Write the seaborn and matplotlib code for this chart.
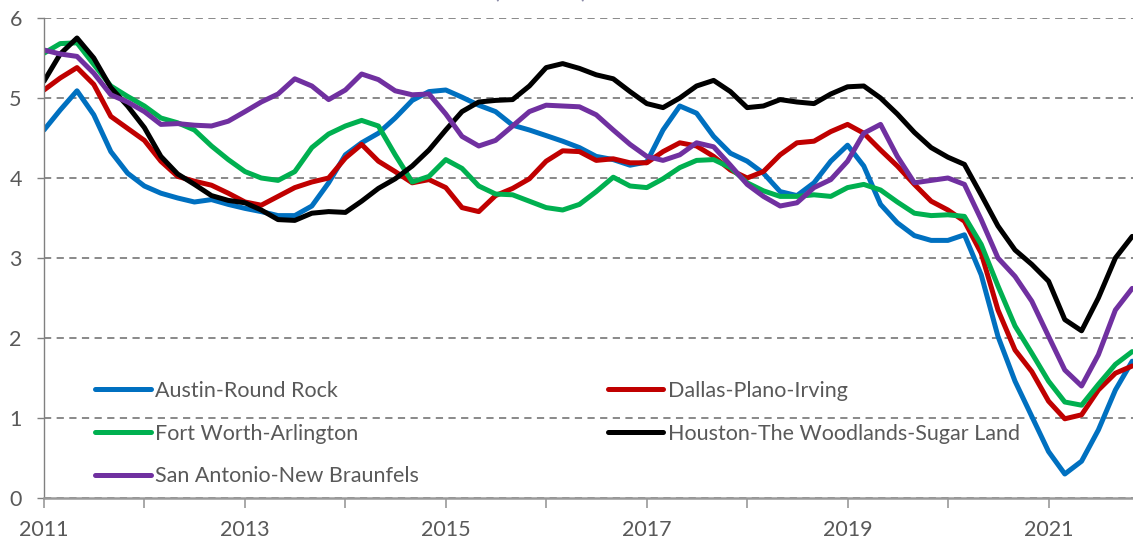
import numpy as np
import pandas as pd
import matplotlib
matplotlib.use("Agg")
import matplotlib.pyplot as plt
import matplotlib.dates as mdates
from matplotlib.ticker import FuncFormatter
import seaborn as sns

# -------------------------
# Data (every 2 months, Jan 2011 - Nov 2021)
# -------------------------
dates = pd.date_range("2011-01-01", "2021-11-01", freq="2MS")

austin = [4.60, 4.85, 5.09, 4.79, 4.33, 4.06, 3.90, 3.81, 3.75, 3.70, 3.73, 3.67,
          3.62, 3.58, 3.53, 3.53, 3.65, 3.94, 4.29, 4.44, 4.56, 4.75, 4.97, 5.08,
          5.10, 5.01, 4.91, 4.83, 4.66, 4.60, 4.53, 4.46, 4.38, 4.27, 4.23, 4.16,
          4.20, 4.60, 4.90, 4.81, 4.52, 4.31, 4.21, 4.06, 3.83, 3.78, 3.94, 4.21,
          4.41, 4.15, 3.67, 3.44, 3.28, 3.22, 3.22, 3.29, 2.79, 2.02, 1.46, 1.02,
          0.58, 0.30, 0.46, 0.85, 1.35, 1.71]
dallas = [5.10, 5.25, 5.38, 5.17, 4.77, 4.62, 4.47, 4.21, 4.02, 3.96, 3.91, 3.81,
          3.70, 3.66, 3.77, 3.88, 3.95, 4.00, 4.25, 4.42, 4.21, 4.08, 3.94, 3.98,
          3.88, 3.63, 3.58, 3.78, 3.87, 3.99, 4.21, 4.34, 4.33, 4.22, 4.24, 4.19,
          4.19, 4.33, 4.44, 4.40, 4.27, 4.10, 4.00, 4.08, 4.29, 4.44, 4.46, 4.58,
          4.67, 4.56, 4.35, 4.15, 3.92, 3.71, 3.60, 3.46, 3.06, 2.35, 1.85, 1.58,
          1.21, 0.99, 1.04, 1.35, 1.56, 1.65]
fort_worth = [5.56, 5.68, 5.69, 5.42, 5.15, 5.02, 4.90, 4.75, 4.69, 4.60, 4.40, 4.23,
              4.08, 4.00, 3.97, 4.08, 4.38, 4.55, 4.65, 4.72, 4.65, 4.29, 3.95, 4.02,
              4.23, 4.12, 3.90, 3.80, 3.79, 3.71, 3.63, 3.60, 3.67, 3.83, 4.01, 3.90,
              3.88, 3.99, 4.13, 4.22, 4.23, 4.13, 3.94, 3.84, 3.77, 3.77, 3.79, 3.77,
              3.88, 3.92, 3.85, 3.70, 3.56, 3.53, 3.54, 3.52, 3.17, 2.65, 2.15, 1.81,
              1.46, 1.20, 1.16, 1.42, 1.67, 1.83]
houston = [5.21, 5.55, 5.75, 5.50, 5.13, 4.90, 4.63, 4.27, 4.05, 3.92, 3.78, 3.72,
           3.69, 3.60, 3.48, 3.47, 3.56, 3.58, 3.57, 3.71, 3.87, 3.99, 4.15, 4.35,
           4.60, 4.83, 4.95, 4.97, 4.98, 5.15, 5.38, 5.43, 5.37, 5.29, 5.24, 5.08,
           4.93, 4.88, 5.00, 5.15, 5.22, 5.08, 4.88, 4.90, 4.98, 4.95, 4.93, 5.05,
           5.14, 5.15, 5.00, 4.80, 4.57, 4.38, 4.26, 4.17, 3.79, 3.40, 3.10, 2.92,
           2.71, 2.23, 2.09, 2.50, 3.00, 3.27]
san_antonio = [5.60, 5.55, 5.52, 5.31, 5.04, 4.95, 4.83, 4.67, 4.68, 4.66, 4.65, 4.71,
               4.83, 4.95, 5.05, 5.24, 5.15, 4.98, 5.10, 5.30, 5.23, 5.09, 5.04, 5.05,
               4.80, 4.52, 4.40, 4.47, 4.65, 4.83, 4.91, 4.90, 4.89, 4.79, 4.60, 4.42,
               4.27, 4.22, 4.29, 4.44, 4.39, 4.16, 3.92, 3.77, 3.65, 3.69, 3.88, 3.98,
               4.21, 4.56, 4.67, 4.27, 3.94, 3.97, 4.00, 3.92, 3.48, 3.00, 2.77, 2.46,
               2.02, 1.60, 1.40, 1.79, 2.35, 2.62]

metros = ["Austin-Round Rock", "Dallas-Plano-Irving", "Fort Worth-Arlington",
          "Houston-The Woodlands-Sugar Land", "San Antonio-New Braunfels"]
colors = ["#0070C0", "#C00000", "#00B050", "#000000", "#7030A0"]
y_ticks = [0, 1, 2, 3, 4, 5, 6]

# -------------------------
# Plot
# -------------------------
series = [austin, dallas, fort_worth, houston, san_antonio]
df = pd.concat(
    [pd.DataFrame({"date": dates, "value": vals, "metro": name})
     for name, vals in zip(metros, series)],
    ignore_index=True,
)

sns.set_theme(style="white")
plt.rcParams["font.family"] = ["Lato", "DejaVu Sans"]
text_color = "#595959"
grid_color = "#808080"

W, H = 1133, 544
fig = plt.figure(figsize=(W / 100, H / 100), dpi=100)
ax = fig.add_axes([44 / W, 46 / H, 1 - 44 / W, 480 / H])

sns.lineplot(data=df, x="date", y="value", hue="metro", hue_order=metros,
             palette=colors, linewidth=3.6, ax=ax)

ax.set_xlim(pd.Timestamp("2011-01-01"), pd.Timestamp("2021-11-04"))
ax.set_ylim(0, 6)
ax.set_yticks(y_ticks)
ax.set_xlabel("")
ax.set_ylabel("")

ax.xaxis.set_major_locator(mdates.YearLocator(1))
ax.xaxis.set_major_formatter(
    FuncFormatter(lambda v, _: str(mdates.num2date(v).year)
                  if mdates.num2date(v).year % 2 == 1 else ""))

ax.yaxis.grid(True, linestyle=(0, (4, 3)), color=grid_color, linewidth=1.3)
ax.xaxis.grid(False)
for s in ["top", "right"]:
    ax.spines[s].set_visible(False)
ax.spines["left"].set_color(grid_color)
ax.spines["left"].set_linewidth(1.0)
ax.spines["bottom"].set_color("#9a9a9a")
ax.spines["bottom"].set_linewidth(1.8)

ax.tick_params(axis="y", direction="out", length=5, width=1, color=grid_color,
               labelsize=15.5, labelcolor=text_color, pad=11, left=True)
ax.tick_params(axis="x", direction="out", length=7, width=1.2, color="#9a9a9a",
               labelsize=15.5, labelcolor=text_color, pad=9, bottom=True)

# legend: Austin / Fort Worth / San Antonio in col 1, Dallas / Houston in col 2
handles, labels = ax.get_legend_handles_labels()
order = [0, 2, 4, 1, 3]
ax.legend([handles[i] for i in order], [labels[i] for i in order],
          ncol=2, loc="upper left", bbox_to_anchor=(95 / W, (H - 381) / H),
          bbox_transform=fig.transFigure, frameon=False, fontsize=15.5,
          labelcolor=text_color, handlelength=2.6, handletextpad=0.2,
          columnspacing=8.75, labelspacing=1.05, borderpad=0, borderaxespad=0)

# title is cropped at the top of the image, only the parentheses show
fig.text(541 / W, 1 + 1.5 / H, "(months)", ha="center", va="baseline",
         fontsize=18, color="#8C8CA8")

fig.savefig("out.png", dpi=100)
plt.close(fig)
